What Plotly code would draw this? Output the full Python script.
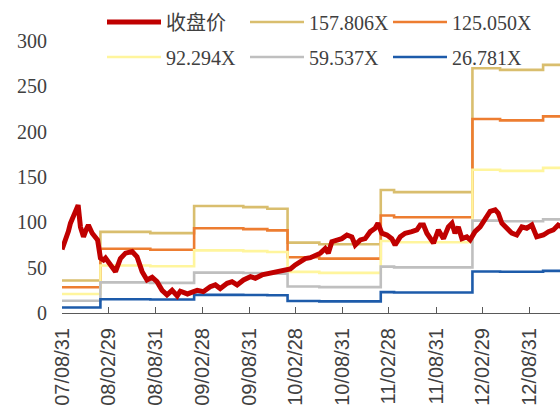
import plotly.graph_objects as go

# Closing price (收盘价), sampled dates and values
price_dates = [
    "2007-08-31", "2007-09-13", "2007-09-25", "2007-10-03", "2007-10-15", "2007-10-23",
    "2007-11-02", "2007-11-11", "2007-11-23", "2007-12-05", "2007-12-12", "2007-12-27",
    "2008-01-09", "2008-01-17", "2008-01-28", "2008-02-09", "2008-02-17", "2008-03-07",
    "2008-03-27", "2008-04-15", "2008-05-05", "2008-05-31", "2008-06-19", "2008-07-09",
    "2008-07-18", "2008-07-28", "2008-08-17", "2008-09-05", "2008-09-25", "2008-10-14",
    "2008-11-03", "2008-11-23", "2008-12-05", "2008-12-18", "2009-01-02", "2009-01-21",
    "2009-02-09", "2009-03-05", "2009-04-01", "2009-04-21", "2009-05-10", "2009-06-06",
    "2009-06-25", "2009-07-15", "2009-08-09", "2009-09-05", "2009-09-24", "2009-10-20",
    "2009-11-15", "2009-12-18", "2010-01-12", "2010-02-08", "2010-02-27", "2010-03-19",
    "2010-04-07", "2010-04-27", "2010-05-16", "2010-06-05", "2010-06-24", "2010-07-06",
    "2010-07-20", "2010-08-09", "2010-08-28", "2010-09-17", "2010-10-06", "2010-10-19",
    "2010-11-08", "2010-11-27", "2010-12-17", "2011-01-05", "2011-01-16", "2011-01-31",
    "2011-02-20", "2011-03-11", "2011-03-24", "2011-04-13", "2011-05-02", "2011-05-28",
    "2011-06-17", "2011-06-30", "2011-07-13", "2011-07-26", "2011-08-08", "2011-08-21",
    "2011-09-09", "2011-09-29", "2011-10-18", "2011-11-01", "2011-11-13", "2011-11-26",
    "2011-12-10", "2011-12-29", "2012-01-11", "2012-01-30", "2012-02-19", "2012-03-10",
    "2012-03-29", "2012-04-18", "2012-04-30", "2012-05-14", "2012-06-02", "2012-06-22",
    "2012-07-11", "2012-07-31", "2012-08-19", "2012-09-08", "2012-09-27", "2012-10-23",
    "2012-11-12", "2012-12-01", "2012-12-20", "2013-01-04",
]
price_values = [
    70, 78.7, 90, 99, 106, 112,
    119, 95, 84, 93, 97, 88,
    82, 80.6, 60.7, 58.5, 60.7, 53,
    45.6, 60, 66, 67.7, 62, 45.6,
    40, 36.4, 39.4, 34.5, 25, 20,
    25, 18.8, 24, 22, 21, 23,
    25, 23.5, 29, 31, 27, 32.7,
    34.5, 31, 36.4, 40, 38.3, 42,
    43.8, 45.6, 47.5, 48.5, 53, 56.6,
    60, 61, 64, 66, 71, 66,
    78.7, 80.6, 82, 86, 84, 75,
    80.6, 82, 89.7, 93.5, 99, 88,
    86, 82, 75, 84, 88, 89.7,
    91.6, 97, 97, 88, 82, 77,
    91.6, 82, 95, 99, 88, 95,
    82, 84, 80.6, 89.7, 95, 102.6,
    112, 113.7, 110, 99, 93.5, 88,
    86, 95, 93.5, 97, 84, 86,
    89.7, 91.6, 97, 95,
]

# Earnings per share used for the PE bands: effective-from dates and values
eps_start = [
    "2007-08-31", "2008-01-28", "2008-08-10", "2009-01-28", "2009-08-08",
    "2009-11-10", "2010-01-28", "2010-06-01", "2011-01-27", "2011-03-20",
    "2012-01-20", "2012-05-07", "2012-10-22",
]
eps_value = [
    0.227, 0.567, 0.558, 0.748, 0.740,
    0.729, 0.492, 0.480, 0.860, 0.845,
    1.711, 1.699, 1.734,
]
eps_end = "2013-01-04"

# PE multiples of the bands
pe_multiples = [157.806, 125.050, 92.294, 59.537, 26.781]
band_colors = ["#D9BE6E", "#ED7D31", "#FFF59D", "#BFBFBF", "#1D5BAA"]

# Axis ticks
tick_dates = [
    "2007-08-31", "2008-02-29", "2008-08-31", "2009-02-28", "2009-08-31",
    "2010-02-28", "2010-08-31", "2011-02-28", "2011-08-31", "2012-02-29", "2012-08-31",
]
tick_labels = [
    "07/08/31", "08/02/29", "08/08/31", "09/02/28", "09/08/31",
    "10/02/28", "10/08/31", "11/02/28", "11/08/31", "12/02/29", "12/08/31",
]

serif = "Liberation Serif, Noto Sans CJK SC, serif"
sans = "Liberation Sans, Arial, sans-serif"
text_color = "#404040"

fig = go.Figure()

step_x = eps_start + [eps_end]
for i, (m, c) in enumerate(zip(pe_multiples, band_colors)):
    ys = [e * m for e in eps_value]
    ys = ys + [ys[-1]]
    fig.add_trace(go.Scatter(
        x=step_x, y=ys, mode="lines", line=dict(color=c, width=2.6, shape="hv"),
        name=f"{m:.3f}X",
        legend="legend" if i < 2 else "legend2",
        legendrank=i + 2 if i < 2 else i + 1,
        hoverinfo="skip",
    ))

fig.add_trace(go.Scatter(
    x=price_dates, y=price_values, mode="lines",
    line=dict(color="#C00000", width=5),
    name="收盘价", legend="legend", legendrank=1,
))

legend_common = dict(
    orientation="h", xref="container", yref="container",
    xanchor="left", yanchor="middle",
    font=dict(family=serif, size=20, color=text_color),
    bgcolor="rgba(0,0,0,0)", borderwidth=0,
    itemwidth=54, entrywidth=74, entrywidthmode="pixels",
    traceorder="normal",
)

fig.update_layout(
    width=560, height=412,
    margin=dict(l=62, r=0, t=41, b=99, autoexpand=False),
    paper_bgcolor="white", plot_bgcolor="white",
    showlegend=True,
    legend=dict(x=102 / 560, y=1 - 22 / 412, **legend_common),
    legend2=dict(x=102 / 560, y=1 - 57 / 412, **legend_common),
    xaxis=dict(
        type="date", range=["2007-08-31", "2012-12-27"],
        tickvals=tick_dates, ticktext=tick_labels, tickangle=-90,
        tickfont=dict(family=sans, size=20, color=text_color),
        showline=True, linecolor="#595959", linewidth=1,
        ticks="inside", ticklen=6, tickcolor="#595959",
        showgrid=False, zeroline=False, ticklabelstandoff=6,
    ),
    yaxis=dict(
        range=[0, 300], tickvals=[0, 50, 100, 150, 200, 250, 300],
        tickfont=dict(family=serif, size=20, color=text_color),
        showline=False, ticks="", showgrid=False, zeroline=False,
        ticklabelstandoff=14,
    ),
)

fig.write_html("out.html")
